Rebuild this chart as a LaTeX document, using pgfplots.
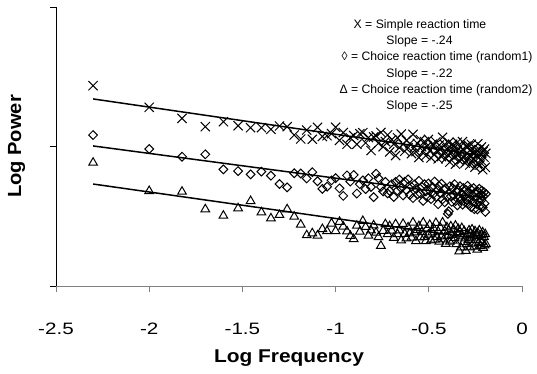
\documentclass[border=0pt]{standalone}
\usepackage{fontspec}
\setmainfont{Liberation Sans}
\usepackage{graphicx}
\usepackage{pgfplots}
\pgfplotsset{compat=1.18}
\usepackage{pgfplotstable}

\pgfplotstableread{
x y1 y2 y3
-2.301 1.436 1.082 0.884
-2.000 1.281 0.982 0.681
-1.824 1.202 0.927 0.676
-1.699 1.142 0.944 0.550
-1.602 1.178 0.836 0.504
-1.523 1.149 0.824 0.557
-1.456 1.135 0.800 0.609
-1.398 1.135 0.820 0.528
-1.347 1.123 0.791 0.485
-1.301 1.147 0.731 0.509
-1.260 1.142 0.707 0.550
-1.222 1.082 0.808 0.497
-1.187 1.054 0.806 0.440
-1.155 1.118 0.771 0.364
-1.125 1.052 0.816 0.378
-1.097 1.137 0.751 0.362
-1.071 1.072 0.696 0.408
-1.046 1.077 0.712 0.393
-1.022 1.092 0.757 0.448
-1.000 1.138 0.773 0.394
-0.979 1.044 0.700 0.460
-0.959 1.100 0.646 0.426
-0.939 1.016 0.793 0.392
-0.921 1.062 0.749 0.359
-0.903 1.079 0.796 0.336
-0.886 1.016 0.663 0.432
-0.870 1.092 0.730 0.389
-0.854 1.099 0.757 0.466
-0.839 1.026 0.695 0.423
-0.824 1.064 0.772 0.361
-0.810 0.971 0.710 0.398
-0.796 1.068 0.637 0.435
-0.783 1.076 0.805 0.383
-0.770 1.023 0.773 0.350
-0.757 1.101 0.710 0.288
-0.745 0.998 0.678 0.396
-0.733 1.036 0.746 0.443
-0.721 1.083 0.664 0.371
-0.710 0.961 0.682 0.429
-0.699 1.049 0.730 0.397
-0.688 1.017 0.638 0.345
-0.678 0.935 0.746 0.443
-0.668 1.063 0.684 0.371
-0.658 0.991 0.763 0.399
-0.648 1.089 0.701 0.327
-0.638 1.017 0.649 0.445
-0.629 0.966 0.748 0.374
-0.620 1.044 0.686 0.342
-0.611 0.992 0.764 0.420
-0.602 1.020 0.653 0.378
-0.593 0.949 0.711 0.347
-0.585 1.087 0.630 0.455
-0.577 0.995 0.728 0.384
-0.569 0.964 0.697 0.322
-0.561 1.022 0.656 0.401
-0.553 0.921 0.754 0.429
-0.545 1.049 0.663 0.348
-0.538 0.998 0.711 0.386
-0.530 0.966 0.610 0.455
-0.523 1.035 0.729 0.353
-0.516 0.934 0.678 0.322
-0.509 1.002 0.636 0.411
-0.502 1.051 0.735 0.369
-0.495 0.969 0.684 0.438
-0.488 0.918 0.623 0.327
-0.481 1.017 0.711 0.385
-0.475 1.006 0.660 0.414
-0.469 0.944 0.749 0.333
-0.462 1.033 0.638 0.452
-0.456 0.972 0.687 0.351
-0.450 0.911 0.586 0.390
-0.444 1.010 0.715 0.318
-0.438 0.978 0.664 0.417
-0.432 0.927 0.733 0.356
-0.426 1.066 0.622 0.455
-0.420 0.955 0.691 0.334
-0.415 1.014 0.600 0.393
-0.409 0.913 0.699 0.302
-0.403 0.982 0.638 0.421
-0.398 0.941 0.517 0.360
-0.393 1.030 0.536 0.399
-0.387 0.888 0.715 0.318
-0.382 0.987 0.644 0.427
-0.377 0.956 0.603 0.366
-0.372 1.016 0.702 0.325
-0.367 0.925 0.651 0.404
-0.362 0.994 0.730 0.343
-0.357 0.873 0.609 0.432
-0.352 0.962 0.678 0.301
-0.347 1.031 0.578 0.370
-0.342 0.940 0.687 0.409
-0.337 0.899 0.636 0.248
-0.333 0.998 0.715 0.387
-0.328 0.967 0.614 0.276
-0.323 0.906 0.663 0.415
-0.319 1.035 0.583 0.355
-0.314 0.924 0.702 0.314
-0.310 0.973 0.641 0.393
-0.305 0.882 0.600 0.342
-0.301 1.002 0.689 0.251
-0.297 0.951 0.619 0.300
-0.292 0.910 0.718 0.370
-0.288 1.009 0.587 0.329
-0.284 0.938 0.666 0.398
-0.280 0.868 0.626 0.277
-0.276 0.977 0.695 0.376
-0.272 1.016 0.564 0.346
-0.268 0.895 0.654 0.405
-0.264 0.954 0.603 0.304
-0.260 0.914 0.702 0.363
-0.256 0.993 0.551 0.283
-0.252 0.852 0.671 0.392
-0.248 0.961 0.630 0.331
-0.244 0.941 0.589 0.370
-0.240 0.880 0.549 0.260
-0.237 1.019 0.678 0.379
-0.233 0.918 0.607 0.308
-0.229 0.978 0.697 0.398
-0.225 0.867 0.576 0.327
-0.222 0.946 0.655 0.286
-0.218 0.996 0.615 0.365
-0.215 0.895 0.684 0.315
-0.211 0.834 0.563 0.384
-0.208 0.964 0.643 0.274
-0.204 0.923 0.672 0.353
-0.201 0.982 0.592 0.292
-0.197 0.851 0.531 0.371
-0.194 0.951 0.660 0.301
}\spectra

\begin{document}
\begin{tikzpicture}
\useasboundingbox (-56bp,-88bp) rectangle (481bp,286bp);
\begin{axis}[
  at={(0,0)}, anchor=south west,
  scale only axis, width=466bp, height=279bp,
  xmin=-2.5, xmax=0, ymin=0, ymax=2,
  axis x line=bottom, axis y line=left,
  x axis line style={-, draw=black!50, line width=1bp},
  y axis line style={-, draw=black, line width=0.8bp},
  xtick={-2.5,-2,-1.5,-1,-0.5,0},
  xticklabels={\scalebox{1.25}[1]{-2.5},\scalebox{1.25}[1]{-2},\scalebox{1.25}[1]{-1.5},\scalebox{1.25}[1]{-1},\scalebox{1.25}[1]{-0.5},\scalebox{1.25}[1]{0}},
  ytick={0,1,2}, yticklabels={},
  tick align=outside, major tick length=6bp,
  xtick style={draw=black!50, line width=1bp},
  ytick style={draw=black, line width=0.8bp},
  xticklabel style={font=\fontsize{16.5bp}{18bp}\selectfont, anchor=center, yshift=-37bp},
  xlabel={\scalebox{1.13}[1]{\bfseries Log Frequency}},
  ylabel={\scalebox{1.06}[1]{\bfseries Log Power}},
  xlabel style={font=\fontsize{18.5bp}{20bp}\selectfont, at={([yshift=-72bp]axis description cs:0.5,0)}, anchor=center},
  ylabel style={font=\fontsize{19bp}{20bp}\selectfont, at={([xshift=-39.5bp]axis description cs:0,0.5)}, anchor=center},
  clip=false,
]
\addplot[only marks, mark=x, mark size=6.5bp, mark options={line width=1bp, black}] table[x=x, y=y1] {\spectra};
\addplot[only marks, mark=square, mark size=3.1bp, mark options={line width=1bp, black, rotate=45}] table[x=x, y=y2] {\spectra};
\addplot[only marks, mark=triangle, mark size=5bp, mark options={line width=1bp, black}] table[x=x, y=y3] {\spectra};
\addplot[black, line width=1.5bp, no marks] coordinates {(-2.301,1.341) (-0.194,0.931)};
\addplot[black, line width=1.5bp, no marks] coordinates {(-2.301,1.004) (-0.194,0.630)};
\addplot[black, line width=1.5bp, no marks] coordinates {(-2.301,0.731) (-0.194,0.331)};
\end{axis}
\begin{scope}[every node/.style={anchor=base, inner sep=0pt, font=\fontsize{12.2bp}{14bp}\selectfont}]
\node at (364bp,257.7bp) {X = Simple reaction time};
\node at (363.5bp,241.4bp) {Slope = -.24};
\node at (381bp,225.1bp) {◊ = Choice reaction time (random1)};
\node at (363.5bp,208.8bp) {Slope = -.22};
\node at (380bp,192.5bp) {Δ = Choice reaction time (random2)};
\node at (363.5bp,176.2bp) {Slope = -.25};
\end{scope}
\end{tikzpicture}
\end{document}
